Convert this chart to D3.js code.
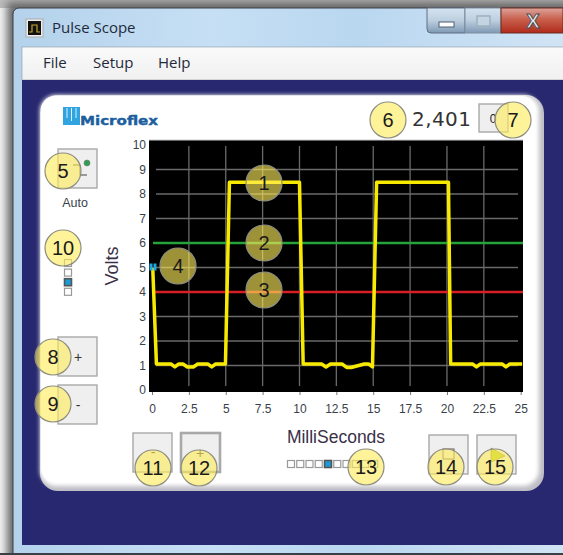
<!DOCTYPE html>
<html>
<head>
<meta charset="utf-8">
<title>Pulse Scope</title>
<script src="https://cdn.jsdelivr.net/npm/d3@7"></script>
<style>
    html, body { margin: 0; padding: 0; background: #f2f2f2; overflow: hidden; }
    svg { display: block; font-family: "Liberation Sans", Arial, sans-serif; }
    .ui { font-family: "Open Sans", "Noto Sans", sans-serif; fill: #1e2a3a; }
    .tick text { font-family: "Liberation Sans", Arial, sans-serif; font-size: 12px; fill: #3a3f4a; }
    .tick line { stroke: #777; }
    .domain { display: none; }
    .grid line { stroke: #6a6a6a; stroke-width: 1.3; }
    .btn { fill: #efefef; stroke: #a9a9a9; }
    .callout circle { fill: #ffeb5a; fill-opacity: 0.62; stroke: #8d8d80; stroke-width: 1.2; }
    .callout text { font-size: 20px; fill: #1a1a1a; text-anchor: middle; dominant-baseline: central; }
</style>
</head>
<body>
<script>
// --- chart data ---
const xTicks = [0, 2.5, 5, 7.5, 10, 12.5, 15, 17.5, 20, 22.5, 25];
const yTicks = [0, 1, 2, 3, 4, 5, 6, 7, 8, 9, 10];
const traceMs = [0.05, 0.3, 0.5, 1.3, 1.55, 1.8, 2.1, 2.4, 2.8, 3.1, 3.8, 4.05, 4.3, 4.98, 5.25,
    10.0, 10.25, 10.45, 11.5, 11.8, 12.1, 12.9, 13.2, 13.5, 14.4, 14.7, 14.95, 15.23,
    20.1, 20.25, 20.45, 21.75, 22.0, 22.25, 23.75, 24.0, 24.25, 25.1];
const traceVolts = [5, 1.06, 1.06, 1.06, 0.94, 1.06, 1.06, 0.94, 0.94, 1.06, 1.06, 0.94, 1.06, 1.06, 8.48,
    8.48, 1.06, 1.06, 1.06, 0.94, 1.06, 1.06, 0.92, 0.92, 1.06, 1.06, 0.94, 8.48,
    8.48, 1.06, 1.06, 1.06, 0.94, 1.06, 1.06, 0.94, 1.06, 1.06];
const upperLevel = 6;
const lowerLevel = 4;
const triggerLevel = 5;
const menuItems = ["File", "Setup", "Help"];
const counterText = "2,401";

const svg = d3.select("body").append("svg").attr("width", 563).attr("height", 555);
const defs = svg.append("defs");

defs.append("filter").attr("id", "soft").attr("x", "-10%").attr("y", "-10%").attr("width", "120%").attr("height", "120%")
    .append("feGaussianBlur").attr("stdDeviation", 4);
defs.append("filter").attr("id", "soft2").attr("x", "-5%").attr("y", "-5%").attr("width", "110%").attr("height", "110%")
    .append("feGaussianBlur").attr("stdDeviation", 2.2);

function gradient(id, stops, horizontal) {
    const g = defs.append("linearGradient").attr("id", id)
        .attr("x1", 0).attr("y1", 0).attr("x2", horizontal ? 1 : 0).attr("y2", horizontal ? 0 : 1);
    stops.forEach((s) => g.append("stop").attr("offset", s[0]).attr("stop-color", s[1]));
}
gradient("frame", [[0, "#b4d2ec"], [0.35, "#c6dff4"], [0.6, "#b9d7f0"], [1, "#d3e5f5"]], true);
gradient("menu", [[0, "#fafafa"], [1, "#f0f0f0"]]);
gradient("minBtn", [[0, "#d6e3ef"], [0.5, "#bccfe0"], [1, "#7f99b3"]]);
gradient("closeBtn", [[0, "#dca49a"], [0.45, "#c9604d"], [1, "#b02a1a"]]);

// --- window ---
svg.append("rect").attr("x", 0).attr("y", 0).attr("width", 563).attr("height", 8).attr("fill", "#bcbcbc");
svg.append("rect").attr("x", 7).attr("y", 2).attr("width", 590).attr("height", 570).attr("fill", "#666").attr("filter", "url(#soft)");
svg.append("rect").attr("x", 13).attr("y", 8).attr("width", 570).attr("height", 560).attr("rx", 6)
    .attr("fill", "url(#frame)").attr("stroke", "#3a3f46");
svg.append("rect").attr("x", 22).attr("y", 47).attr("width", 560).attr("height", 33).attr("fill", "url(#menu)").attr("stroke", "#8d9aa6").attr("stroke-width", 0.6);
svg.append("rect").attr("x", 22).attr("y", 80).attr("width", 560).attr("height", 465).attr("fill", "#27286f");
svg.append("rect").attr("x", 0).attr("y", 553).attr("width", 563).attr("height", 2).attr("fill", "#3a3f46");

// title bar
svg.append("rect").attr("x", 26).attr("y", 19).attr("width", 17).attr("height", 18).attr("fill", "#eee").attr("stroke", "#aaa");
svg.append("rect").attr("x", 28).attr("y", 21).attr("width", 13).attr("height", 14).attr("fill", "#111");
svg.append("path").attr("d", "M29,32H32V25H37V32H40").attr("fill", "none").attr("stroke", "#c9a227").attr("stroke-width", 1.2);
svg.append("text").attr("class", "ui").attr("x", 52).attr("y", 33).attr("font-size", 15).text("Pulse Scope");

svg.append("path").attr("d", "M427,8V29q0,4 4,4H465V8Z").attr("fill", "url(#minBtn)").attr("stroke", "#5f6f80");
svg.append("rect").attr("x", 465).attr("y", 8).attr("width", 36).attr("height", 25).attr("fill", "url(#minBtn)").attr("stroke", "#7f8f9f");
svg.append("rect").attr("x", 501).attr("y", 8).attr("width", 62).attr("height", 25).attr("fill", "url(#closeBtn)").attr("stroke", "#6b2a20");
svg.append("rect").attr("x", 439).attr("y", 22).attr("width", 15).attr("height", 5).attr("fill", "#fff").attr("stroke", "#4f5f70");
svg.append("rect").attr("x", 477).attr("y", 16).attr("width", 13).attr("height", 10).attr("fill", "#c4d4e2").attr("stroke", "#9fb0c0").attr("stroke-width", 1.5);
svg.append("text").attr("x", 533).attr("y", 28).attr("text-anchor", "middle").attr("font-size", 20).attr("font-weight", "bold")
    .attr("fill", "#f2f2f2").attr("stroke", "#4a4f58").attr("stroke-width", 1).text("X");

// menu
const menuX = d3.scalePoint().domain(menuItems).range([43, 158]);
svg.selectAll(".menu").data(menuItems).enter().append("text")
    .attr("class", "ui menu")
    .attr("x", (d) => (d === "Setup" ? 93 : menuX(d)))
    .attr("y", 68).attr("font-size", 15).text((d) => d);

// --- white panel ---
svg.append("rect").attr("x", 40).attr("y", 95).attr("width", 504).attr("height", 396).attr("rx", 18).attr("fill", "#bdbdc4");
svg.append("rect").attr("x", 40).attr("y", 95).attr("width", 499).attr("height", 391).attr("rx", 16).attr("fill", "#fff").attr("filter", "url(#soft2)");
svg.append("rect").attr("x", 41).attr("y", 96).attr("width", 494).attr("height", 386).attr("rx", 14).attr("fill", "#fff");

// logo
svg.append("rect").attr("x", 63).attr("y", 107).attr("width", 17).attr("height", 18).attr("fill", "#2fa4e0");
svg.append("path").attr("d", "M67,108V118M71.5,108V121M76,108V118").attr("stroke", "#d8f0fb").attr("stroke-width", 1);
svg.append("text").attr("x", 80).attr("y", 125).attr("font-family", "DejaVu Sans").attr("font-weight", "bold")
    .attr("font-size", 13).attr("fill", "#1c5e9e").attr("stroke", "#1c5e9e").attr("stroke-width", 0.4)
    .attr("textLength", 78).attr("lengthAdjust", "spacingAndGlyphs").text("Microflex");

// counter
svg.append("text").attr("x", 412).attr("y", 126).attr("font-family", "DejaVu Sans").attr("font-size", 20)
    .attr("fill", "#333").attr("textLength", 59).text(counterText);
svg.append("rect").attr("class", "btn").attr("x", 479).attr("y", 104).attr("width", 29).attr("height", 28).style("stroke-width", 1.4);
svg.append("text").attr("x", 493).attr("y", 123).attr("text-anchor", "middle").attr("font-size", 12).attr("fill", "#222").text("0");

// --- plot ---
const x = d3.scaleLinear().domain([0, 25]).range([152, 520.7]);
const y = d3.scaleLinear().domain([0, 10]).range([390, 145]);

svg.append("rect").attr("x", 149).attr("y", 140).attr("width", 374).attr("height", 252).attr("fill", "#000");
svg.append("line").attr("x1", 149).attr("x2", 523).attr("y1", 140).attr("y2", 140).attr("stroke", "#ccc");

const grid = svg.append("g").attr("class", "grid");
grid.selectAll(".v").data(xTicks.slice(1, -1)).enter().append("line")
    .attr("x1", (d) => x(d)).attr("x2", (d) => x(d)).attr("y1", 146).attr("y2", 386);
grid.selectAll(".h").data(yTicks.slice(1, -1)).enter().append("line")
    .attr("x1", 156).attr("x2", 518).attr("y1", (d) => y(d)).attr("y2", (d) => y(d));

svg.append("g").attr("transform", "translate(0,392)")
    .call(d3.axisBottom(x).tickValues(xTicks).tickSize(3).tickPadding(9).tickFormat((d) => String(d)));
svg.append("g").attr("transform", "translate(149,0)")
    .call(d3.axisLeft(y).tickValues(yTicks).tickSize(0).tickPadding(3));

// level lines and trace
[[upperLevel, "#27a33c"], [lowerLevel, "#d81f26"]].forEach((l) => {
    svg.append("line").attr("x1", 153).attr("x2", 523)
        .attr("y1", y(l[0])).attr("y2", y(l[0])).attr("stroke", l[1]).attr("stroke-width", 2.6);
});

const line = d3.line().x((d) => x(d[0])).y((d) => y(d[1]));
svg.append("path").datum(d3.zip(traceMs, traceVolts)).attr("d", line)
    .attr("fill", "none").attr("stroke", "#f7ea00").attr("stroke-width", 3.5).attr("stroke-linejoin", "round");

// trigger marker
[149.5, 153.5].forEach((mx) => {
    svg.append("rect").attr("x", mx).attr("y", y(triggerLevel) - 4).attr("width", 3).attr("height", 7).attr("fill", "#1fa6e0");
});

// axis titles
svg.append("text").attr("transform", "translate(118,266) rotate(-90)").attr("text-anchor", "middle")
    .attr("font-size", 18).attr("fill", "#3a3048").text("Volts");
svg.append("text").attr("x", 336).attr("y", 443).attr("text-anchor", "middle")
    .attr("font-size", 17.5).attr("fill", "#3a3048").text("MilliSeconds");
svg.append("text").attr("x", 75).attr("y", 207).attr("text-anchor", "middle")
    .attr("font-size", 12.5).attr("fill", "#3a3f4a").text("Auto");

// --- buttons ---
function button(bx, by, label, lx, ly, thick) {
    svg.append("rect").attr("class", "btn").attr("x", bx).attr("y", by).attr("width", 39).attr("height", 39)
        .style("stroke-width", thick ? 2.6 : 1.4);
    if (label) {
        svg.append("text").attr("x", lx).attr("y", ly).attr("text-anchor", "middle").attr("font-size", 14).attr("fill", "#333").text(label);
    }
}
button(58, 149);
svg.append("path").attr("d", "M73,165H80V175H87").attr("fill", "none").attr("stroke", "#444").attr("stroke-width", 1);
svg.append("circle").attr("cx", 87).attr("cy", 163).attr("r", 3).attr("fill", "#2e9e4f").attr("stroke", "#777").attr("stroke-width", 0.6);
button(58, 337, "+", 78, 362);
button(58, 385, "-", 78, 410);
button(133, 433, "-", 153, 457);
button(181, 433, "+", 200, 458, true);
button(429, 435);
svg.append("rect").attr("x", 443).attr("y", 449).attr("width", 11).attr("height", 10).attr("fill", "none").attr("stroke", "#6b5560").attr("stroke-width", 1);
button(477, 435);
svg.append("path").attr("d", "M491,448L505,456L491,462Z").attr("fill", "#b6cc1a").attr("stroke", "#555").attr("stroke-width", 0.5);

// --- step sliders ---
function slider(cx, cy, selected) {
    svg.append("rect").attr("x", cx - 3.5).attr("y", cy - 3.5).attr("width", 7).attr("height", 7)
        .attr("fill", selected ? "#1a9ad6" : "#fff")
        .attr("stroke", selected ? "#555" : "#999").attr("stroke-width", selected ? 1.6 : 1.2);
}
d3.range(4).forEach((i) => slider(68, 263 + i * 9.6, i === 2));
d3.range(10).forEach((i) => slider(291 + i * 9.25, 464, i === 4));

// --- numbered callouts ---
function callout(cx, cy, label) {
    const g = svg.append("g").attr("class", "callout");
    g.append("circle").attr("cx", cx).attr("cy", cy).attr("r", 18);
    g.append("text").attr("x", cx).attr("y", cy).text(label);
}
callout(264, 183, "1");
callout(264, 243, "2");
callout(264, 290, "3");
callout(178, 266, "4");
callout(63, 171, "5");
callout(388, 120, "6");
callout(513, 120, "7");
callout(53, 357, "8");
callout(53, 404, "9");
callout(63, 248, "10");
callout(153, 468, "11");
callout(199, 468, "12");
callout(366, 467, "13");
callout(446, 467, "14");
callout(495, 467, "15");
</script>
</body>
</html>
